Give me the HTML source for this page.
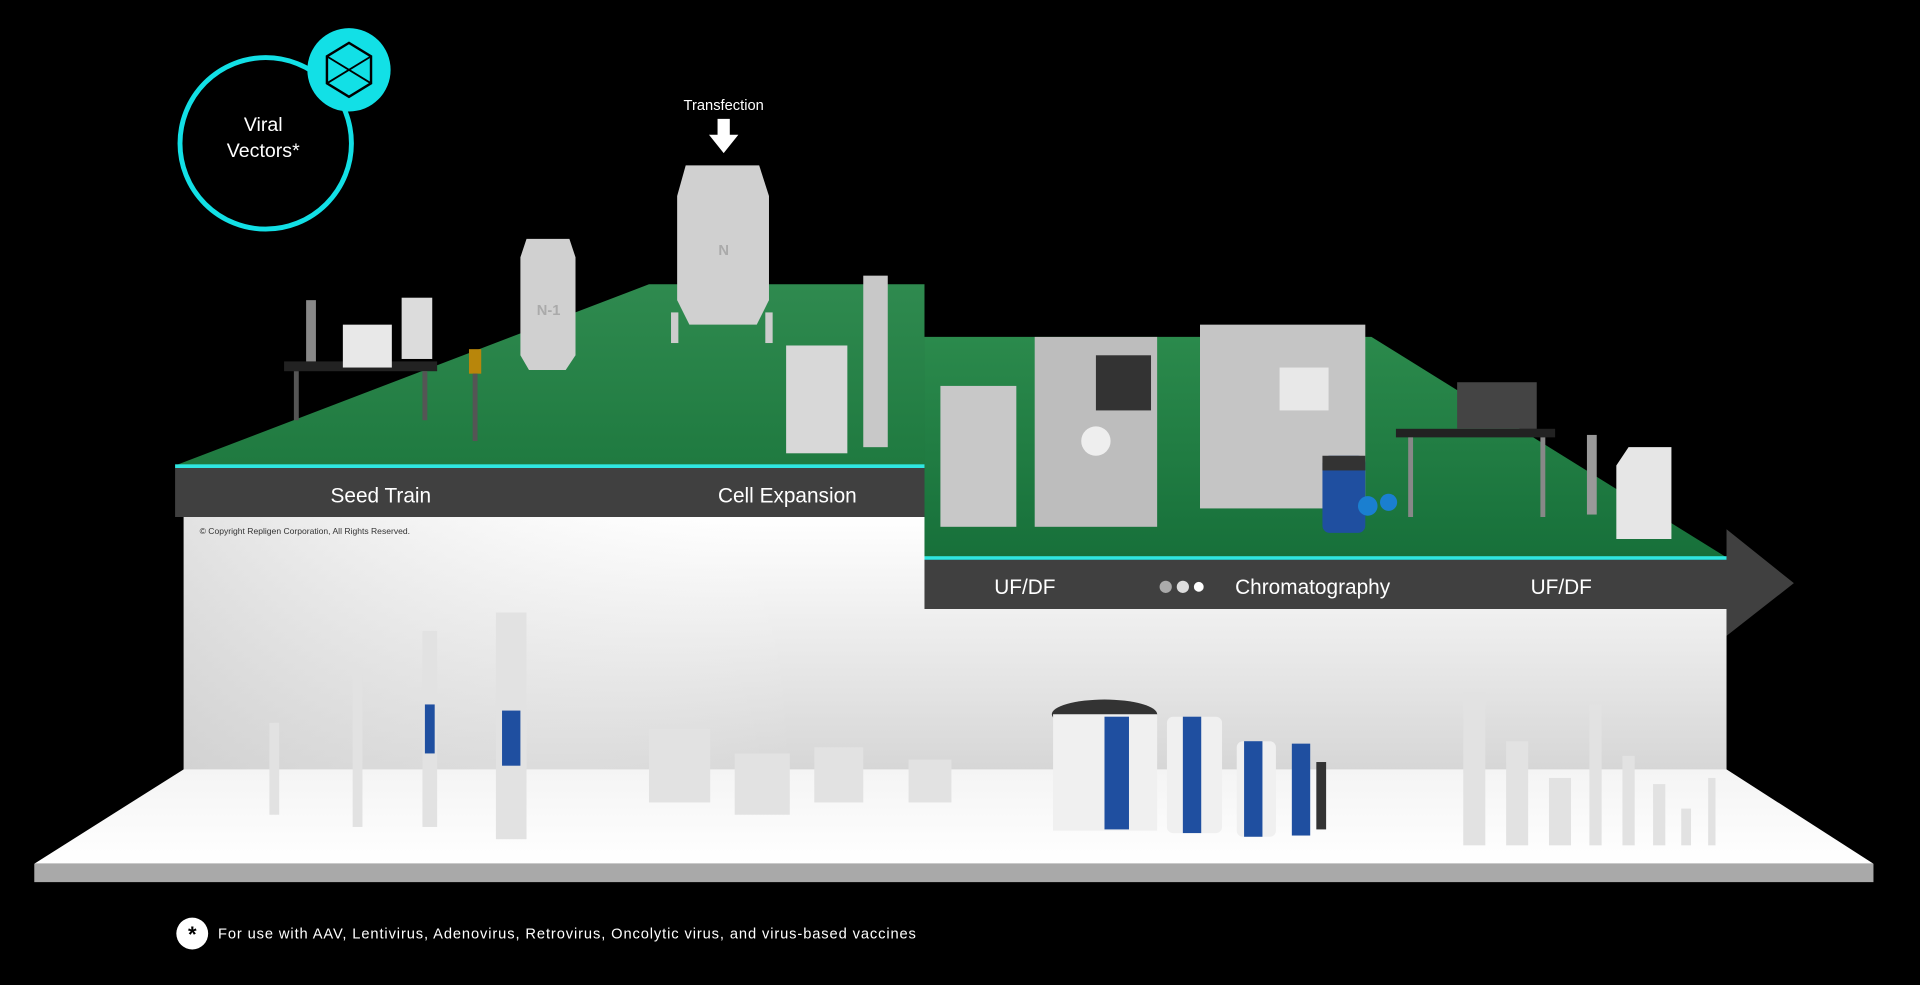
<!DOCTYPE html>
<html><head><meta charset="utf-8"><style>
html,body{margin:0;padding:0;background:#000;width:1920px;height:985px;overflow:hidden}
svg{display:block}
text{font-family:"Liberation Sans",sans-serif}
</style></head><body>
<svg width="1920" height="985" viewBox="0 0 1568 804" preserveAspectRatio="none" xmlns="http://www.w3.org/2000/svg">
<defs>
<linearGradient id="wall" x1="0" y1="0" x2="0" y2="1"><stop offset="0" stop-color="#ffffff"/><stop offset="1" stop-color="#d6d6d6"/></linearGradient>
<linearGradient id="wallh" x1="0" y1="0" x2="1" y2="0"><stop offset="0" stop-color="#cfcfcf" stop-opacity=".6"/><stop offset=".4" stop-color="#fff" stop-opacity="0"/><stop offset="1" stop-color="#fff" stop-opacity="0"/></linearGradient>
<linearGradient id="floor" x1="0" y1="0" x2="0" y2="1"><stop offset="0" stop-color="#f4f4f4"/><stop offset="1" stop-color="#ffffff"/></linearGradient>
<linearGradient id="g1" x1="0" y1="0" x2="0" y2="1"><stop offset="0" stop-color="#2f8a4f"/><stop offset="1" stop-color="#1f7a40"/></linearGradient>
<linearGradient id="g2" x1="0" y1="0" x2="0" y2="1"><stop offset="0" stop-color="#2b8a4c"/><stop offset="1" stop-color="#17703a"/></linearGradient>
</defs>
<rect width="1568" height="804" fill="#000"/>
<polygon points="150,422 755,422 755,497 1410,497 1410,630 150,630" fill="url(#wall)"/>
<polygon points="150,422 755,422 755,497 1410,497 1410,630 150,630" fill="url(#wallh)"/>
<polygon points="150,628 1410,628 1530,705 28,705" fill="url(#floor)"/>
<polygon points="28,705 1530,705 1530,720 28,720" fill="#a9a9a9"/>
<polygon points="143,380 530,232 755,232 755,380" fill="url(#g1)"/>
<rect x="143" y="379" width="612" height="3" fill="#2fe6e0"/>
<rect x="143" y="382" width="612" height="40" fill="#404040"/>
<text x="311" y="410" fill="#fff" font-size="17" text-anchor="middle">Seed Train</text>
<text x="643" y="410" fill="#fff" font-size="17" text-anchor="middle">Cell Expansion</text>
<text x="163" y="436" fill="#333" font-size="7">© Copyright Repligen Corporation, All Rights Reserved.</text>
<polygon points="755,275 1120,275 1410,455 755,455" fill="url(#g2)"/>
<rect x="755" y="454" width="655" height="3" fill="#2fe6e0"/>
<polygon points="755,457 1410,457 1410,432 1465,476 1410,519 1410,497 755,497" fill="#404040"/>
<text x="837" y="485" fill="#fff" font-size="17" text-anchor="middle">UF/DF</text>
<circle cx="952" cy="479" r="5" fill="#aaa"/><circle cx="966" cy="479" r="5" fill="#ddd"/><circle cx="979" cy="479" r="4" fill="#fff"/>
<text x="1072" y="485" fill="#fff" font-size="17" text-anchor="middle">Chromatography</text>
<text x="1275" y="485" fill="#fff" font-size="17" text-anchor="middle">UF/DF</text>
<circle cx="217" cy="117" r="70" fill="none" stroke="#12e0e6" stroke-width="4"/>
<circle cx="285" cy="57" r="34" fill="#12e0e6"/>
<polygon points="285,35 303,46 303,68 285,79 267,68 267,46" fill="none" stroke="#000" stroke-width="2"/>
<line x1="267" y1="46" x2="303" y2="68" stroke="#000" stroke-width="1.5"/><line x1="303" y1="46" x2="267" y2="68" stroke="#000" stroke-width="1.5"/>
<text x="215" y="107" fill="#fff" font-size="16" text-anchor="middle">Viral</text>
<text x="215" y="128" fill="#fff" font-size="16" text-anchor="middle">Vectors*</text>
<text x="591" y="90" fill="#fff" font-size="12" text-anchor="middle">Transfection</text>
<polygon points="586,97 596,97 596,110 603,110 591,125 579,110 586,110" fill="#fff"/>
<rect x="232" y="295" width="125" height="8" fill="#222"/>
<rect x="240" y="303" width="4" height="40" fill="#555"/><rect x="345" y="303" width="4" height="40" fill="#555"/>
<rect x="280" y="265" width="40" height="35" fill="#e8e8e8"/>
<rect x="328" y="243" width="25" height="50" fill="#dcdcdc"/>
<rect x="250" y="245" width="8" height="50" fill="#888"/>
<rect x="383" y="285" width="10" height="20" fill="#b8860b"/><rect x="386" y="305" width="4" height="55" fill="#555"/>
<path d="M430,195 h35 l5,15 v80 l-8,12 h-30 l-7,-12 v-80z" fill="#d0d0d0"/>
<text x="448" y="257" fill="#aaa" font-size="12" font-weight="bold" text-anchor="middle">N-1</text>
<path d="M560,135 h60 l8,25 v85 l-10,20 h-55 l-10,-20 v-85z" fill="#d0d0d0"/>
<rect x="548" y="255" width="6" height="25" fill="#ccc"/><rect x="625" y="255" width="6" height="25" fill="#ccc"/>
<text x="591" y="208" fill="#aaa" font-size="12" font-weight="bold" text-anchor="middle">N</text>
<rect x="642" y="282" width="50" height="88" fill="#d8d8d8"/>
<rect x="705" y="225" width="20" height="140" fill="#c8c8c8"/>
<rect x="768" y="315" width="62" height="115" fill="#c8c8c8"/>
<rect x="845" y="275" width="100" height="155" fill="#bdbdbd"/>
<rect x="895" y="290" width="45" height="45" fill="#333"/>
<circle cx="895" cy="360" r="12" fill="#eee"/>
<rect x="980" y="265" width="135" height="150" fill="#c5c5c5"/>
<rect x="1045" y="300" width="40" height="35" fill="#e8e8e8"/>
<rect x="1080" y="372" width="35" height="63" rx="6" fill="#1f4fa0"/>
<rect x="1080" y="372" width="35" height="12" fill="#333"/>
<circle cx="1117" cy="413" r="8" fill="#1a7fd0"/><circle cx="1134" cy="410" r="7" fill="#1a7fd0"/>
<rect x="1140" y="350" width="130" height="7" fill="#222"/>
<rect x="1150" y="357" width="4" height="65" fill="#888"/><rect x="1258" y="357" width="4" height="65" fill="#888"/>
<rect x="1190" y="312" width="65" height="38" fill="#444"/>
<rect x="1296" y="355" width="8" height="65" fill="#999"/>
<path d="M1330,365 h35 v75 h-45 v-60z" fill="#e6e6e6"/>
<g fill="#e2e2e2">
<rect x="220" y="590" width="8" height="75"/><rect x="288" y="545" width="8" height="130"/>
<rect x="345" y="515" width="12" height="160"/><rect x="405" y="500" width="25" height="185"/>
<rect x="530" y="595" width="50" height="60"/><rect x="600" y="615" width="45" height="50"/>
<rect x="665" y="610" width="40" height="45"/><rect x="742" y="620" width="35" height="35"/>
<rect x="1195" y="565" width="18" height="125"/><rect x="1230" y="605" width="18" height="85"/>
<rect x="1265" y="635" width="18" height="55"/><rect x="1298" y="575" width="10" height="115"/>
<rect x="1325" y="617" width="10" height="73"/><rect x="1350" y="640" width="10" height="50"/>
<rect x="1373" y="660" width="8" height="30"/><rect x="1395" y="635" width="6" height="55"/>
</g>
<rect x="347" y="575" width="8" height="40" fill="#1f4fa0"/><rect x="410" y="580" width="15" height="45" fill="#1f4fa0"/>
<ellipse cx="902" cy="583" rx="43" ry="12" fill="#333"/>
<rect x="860" y="583" width="85" height="95" fill="#f0f0f0"/><rect x="902" y="585" width="20" height="92" fill="#1f4fa0"/>
<rect x="953" y="585" width="45" height="95" rx="5" fill="#f0f0f0"/><rect x="966" y="585" width="15" height="95" fill="#1f4fa0"/>
<rect x="1010" y="605" width="32" height="78" rx="5" fill="#f0f0f0"/><rect x="1016" y="605" width="15" height="78" fill="#1f4fa0"/>
<rect x="1055" y="607" width="15" height="75" fill="#1f4fa0"/>
<rect x="1075" y="622" width="8" height="55" fill="#333"/>
<circle cx="157" cy="762" r="13" fill="#fff"/>
<text x="157" y="769" fill="#000" font-size="18" font-weight="bold" text-anchor="middle">*</text>
<text x="178" y="766" fill="#fff" font-size="12" textLength="570" lengthAdjust="spacing">For use with AAV, Lentivirus, Adenovirus, Retrovirus, Oncolytic virus, and virus-based vaccines</text>
</svg>
</body></html>
